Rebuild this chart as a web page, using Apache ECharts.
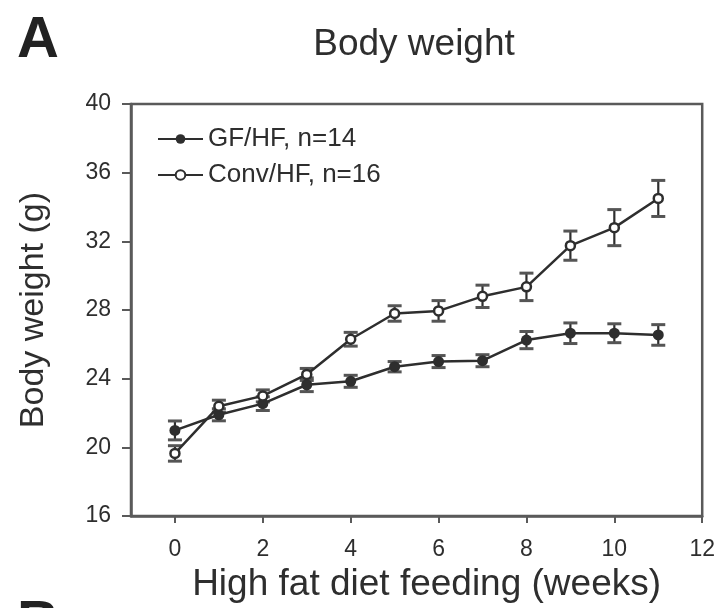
<!DOCTYPE html>
<html>
<head>
<meta charset="utf-8">
<script src="https://cdn.jsdelivr.net/npm/echarts@6/dist/echarts.min.js"></script>
<style>html,body{margin:0;padding:0;background:#fff;}#c{width:718px;height:608px;}</style>
</head>
<body>
<div id="c"></div>
<script>
var weeks = [0, 1, 2, 3, 4, 5, 6, 7, 8, 9, 10, 11];
var gfMean = [20.99, 21.9, 22.55, 23.65, 23.85, 24.7, 25.0, 25.05, 26.25, 26.65, 26.65, 26.55];
var gfSE = [0.55, 0.35, 0.4, 0.4, 0.35, 0.3, 0.35, 0.35, 0.5, 0.6, 0.55, 0.6];
var convMean = [19.65, 22.4, 23.0, 24.25, 26.3, 27.8, 27.95, 28.8, 29.35, 31.75, 32.8, 34.5];
var convSE = [0.45, 0.35, 0.35, 0.35, 0.4, 0.45, 0.6, 0.65, 0.8, 0.85, 1.05, 1.05];
var xTicks = [0, 2, 4, 6, 8, 10, 12];
var seriesNames = ['GF/HF, n=14', 'Conv/HF, n=16'];

var dark = '#2e2e2e';
var axisCol = '#5a5a5a';
var font = 'Liberation Sans, Arial, sans-serif';

function pts(mean) { return weeks.map(function (w, i) { return [w, mean[i]]; }); }
function errs(mean, se) { return weeks.map(function (w, i) { return [w, mean[i] - se[i], mean[i] + se[i]]; }); }

function errRender(params, api) {
  var x = api.value(0), lo = api.value(1), hi = api.value(2);
  var p1 = api.coord([x, hi]);
  var p2 = api.coord([x, lo]);
  var hw = 7;
  var st = { stroke: dark, lineWidth: 2.2 };
  return {
    type: 'group',
    children: [
      { type: 'line', shape: { x1: p1[0], y1: p1[1], x2: p2[0], y2: p2[1] }, style: st },
      { type: 'line', shape: { x1: p1[0] - hw, y1: p1[1], x2: p1[0] + hw, y2: p1[1] }, style: { stroke: '#555', lineWidth: 3 } },
      { type: 'line', shape: { x1: p2[0] - hw, y1: p2[1], x2: p2[0] + hw, y2: p2[1] }, style: { stroke: '#555', lineWidth: 3 } }
    ]
  };
}

var chart = echarts.init(document.getElementById('c'), null, { renderer: 'canvas' });
chart.setOption({
  animation: false,
  backgroundColor: '#fff',
  textStyle: { fontFamily: font },
  title: {
    text: 'Body weight',
    left: 409, top: 21, textAlign: 'center',
    textStyle: { fontSize: 37, fontWeight: 'normal', color: dark, fontFamily: font }
  },
  graphic: [
    { type: 'text', left: 17, top: 12, style: { text: 'A', font: 'bold 58px ' + font, fill: '#222' } },
    { type: 'text', left: 17, top: 596, style: { text: 'B', font: 'bold 58px ' + font, fill: '#222' } }
  ],
  legend: {
    orient: 'vertical', left: 152, top: 121,
    itemWidth: 45, itemHeight: 12, itemGap: 10,
    data: seriesNames,
    textStyle: { fontSize: 26, color: dark, fontFamily: font }
  },
  grid: {
    left: 131, right: 11, top: 104, bottom: 91,
    show: true, borderColor: axisCol, borderWidth: 2.5, backgroundColor: 'transparent'
  },
  xAxis: {
    type: 'value', min: -1, max: 12, interval: 1,
    name: 'High fat diet feeding (weeks)', nameLocation: 'middle', nameGap: 49,
    nameTextStyle: { fontSize: 37, color: dark, fontFamily: font, padding: [0, 0, 0, 20] },
    axisLine: { show: true, onZero: false, lineStyle: { color: axisCol, width: 2.5 } },
    axisTick: { show: true, length: 7, lineStyle: { color: axisCol, width: 2 }, customValues: xTicks },
    axisLabel: { fontSize: 23, color: dark, margin: 22, customValues: xTicks, showMaxLabel: true },
    splitLine: { show: false }
  },
  yAxis: {
    type: 'value', min: 16, max: 40, interval: 4,
    name: 'Body weight (g)', nameLocation: 'middle', nameGap: 80,
    nameTextStyle: { fontSize: 34, color: dark, fontFamily: font },
    axisLine: { show: true, onZero: false, lineStyle: { color: axisCol, width: 2.5 } },
    axisTick: { show: true, length: 9, lineStyle: { color: axisCol, width: 2 } },
    axisLabel: { fontSize: 23, color: dark, margin: 20 },
    splitLine: { show: false }
  },
  series: [
    { type: 'custom', name: 'errGF', renderItem: errRender, data: errs(gfMean, gfSE), z: 1, silent: true },
    { type: 'custom', name: 'errConv', renderItem: errRender, data: errs(convMean, convSE), z: 1, silent: true },
    {
      type: 'line', name: seriesNames[0], data: pts(gfMean), z: 3,
      symbol: 'circle', symbolSize: 11,
      lineStyle: { color: dark, width: 2.5 },
      itemStyle: { color: dark, borderColor: dark, borderWidth: 0 }
    },
    {
      type: 'line', name: seriesNames[1], data: pts(convMean), z: 4,
      symbol: 'circle', symbolSize: 9,
      lineStyle: { color: dark, width: 2.5 },
      itemStyle: { color: '#fff', borderColor: dark, borderWidth: 2.5 }
    }
  ]
});
</script>
</body>
</html>
